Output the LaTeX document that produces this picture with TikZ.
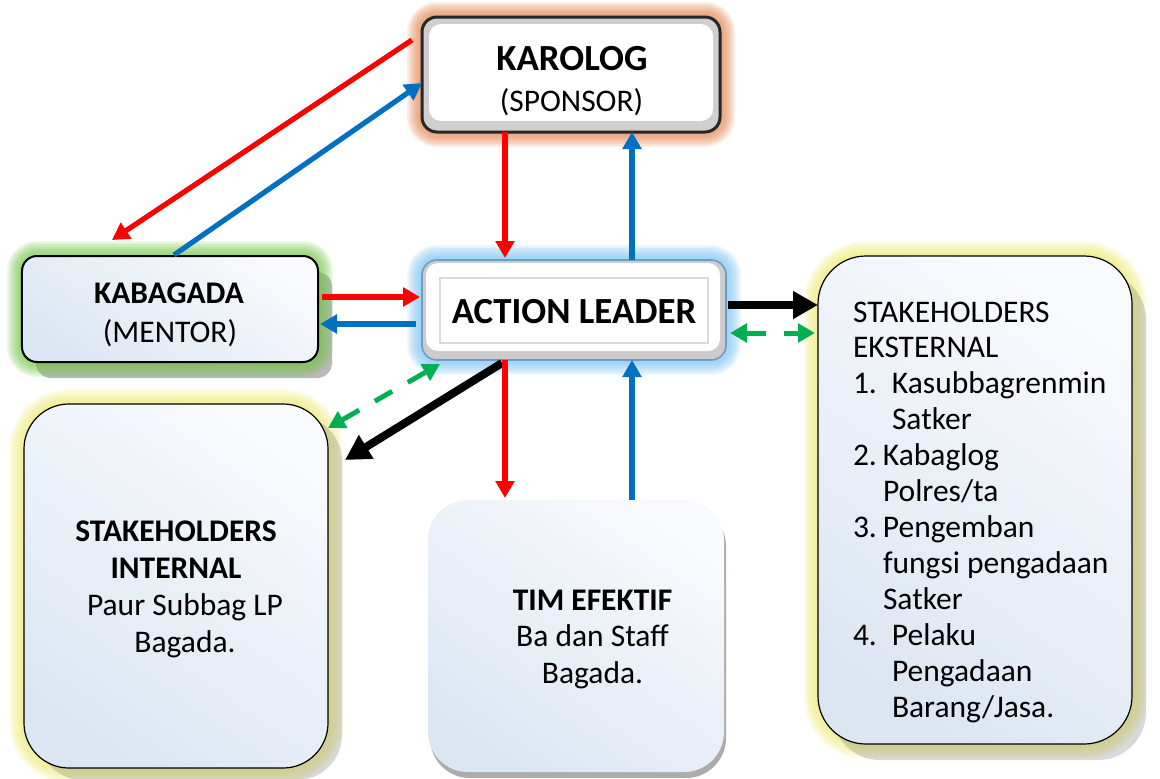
\documentclass[tikz,border=0pt]{standalone}
\usepackage{fontspec}
\setmainfont{Carlito}
\usetikzlibrary{arrows.meta,calc}
\pgfdeclarelayer{background}
\pgfsetlayers{background,main}

\definecolor{redA}{HTML}{FF0000}
\definecolor{blueA}{HTML}{0070C0}
\definecolor{greenA}{HTML}{00B050}
\definecolor{boxhi}{HTML}{F8FAFD}
\definecolor{boxlo}{HTML}{DCE6F2}
\definecolor{glowY}{HTML}{EEEA73}
\definecolor{glowG}{HTML}{75C647}
\definecolor{glowO}{HTML}{E1814A}
\definecolor{glowB}{HTML}{7AC2F2}
\definecolor{leadborder}{HTML}{6F9BCB}

% soft halo: stacked translucent strokes round a node's outline
\newcommand{\glowaround}[3]{%
  \begin{pgfonlayer}{background}
    \foreach \g in {1,...,10}{
      \pgfmathsetmacro{\lw}{0.75*\g}
      \draw[#3, line width=\lw mm, opacity=0.12, rounded corners=#2]
        (#1.north west) rectangle (#1.south east);
    }
  \end{pgfonlayer}}

% offset drop shadow behind a node
\newcommand{\dropshadow}[5]{%
  \begin{pgfonlayer}{background}
    \fill[#5, rounded corners=#4]
      ([shift={(#2,#3)}]#1.north west) rectangle ([shift={(#2,#3)}]#1.south east);
  \end{pgfonlayer}}

% grey bevel ring inside a framed box
\newcommand{\bevel}[7]{%
  \begin{pgfonlayer}{background}
    \fill[#7, rounded corners=#6] (#1.north west) rectangle (#1.south east);
    \fill[white, rounded corners=#6]
      ([shift={(#2,#3)}]#1.north west) rectangle ([shift={(#4,#5)}]#1.south east);
  \end{pgfonlayer}}

\tikzset{
  box/.style={rectangle, inner sep=0pt, outer sep=0pt},
  bluefill/.style={top color=boxhi, bottom color=boxlo, shading angle=-35},
  txt/.style={inner sep=0pt, outer sep=0pt, text=black},
  bigfont/.style={font=\fontsize{22.4}{26.3}\selectfont},
  boldfont/.style={font=\fontsize{22.4}{26.3}\selectfont\bfseries},
  headfont/.style={font=\fontsize{26.2}{30}\selectfont\bfseries},
  redarr/.style={draw=redA, line width=1.3mm, -{Triangle[length=4.25mm, width=4.6mm]}},
  bluearr/.style={draw=blueA, line width=1.3mm, -{Triangle[length=4.25mm, width=4.6mm]}},
  blackarr/.style={draw=black, line width=2mm, -{Triangle[length=6.25mm, width=6.6mm]}},
  greenarr/.style={draw=greenA, line width=1.25mm, dash pattern=on 5mm off 4.5mm,
    {Triangle[length=4.25mm, width=4.6mm]}-{Triangle[length=4.25mm, width=4.6mm]}},
}

\begin{document}
\begin{tikzpicture}[x=0.25mm, y=-0.25mm]
\useasboundingbox (0,0) rectangle (1160,778);

% boxes
\node[box, draw=black!85, line width=0.75mm, minimum width=74.5mm, minimum height=28.75mm,
      rounded corners=3.75mm] (karolog) at (571,74.5) {};
\node[box, bluefill, draw=black, line width=0.5mm, minimum width=74mm, minimum height=26.5mm,
      rounded corners=3.75mm] (kabagada) at (170,309) {};
\node[box, draw=leadborder, line width=0.4mm, minimum width=76mm, minimum height=25mm,
      rounded corners=3.75mm] (action) at (574,310) {};
\node[box, bluefill, draw=black, line width=0.3mm, minimum width=76mm, minimum height=91mm,
      rounded corners=11.25mm] (internal) at (176,586) {};
\node[box, bluefill, minimum width=74mm, minimum height=68mm,
      rounded corners=10mm] (tim) at (576,636) {};
\node[box, bluefill, draw=black, line width=0.3mm, minimum width=78.5mm, minimum height=122mm,
      rounded corners=12mm] (eksternal) at (975,500) {};

% halos, shadows and bevels
\dropshadow{kabagada}{14}{16}{3.75mm}{gray!55}
\glowaround{karolog}{3.75mm}{glowO}
\glowaround{kabagada}{3.75mm}{glowG}
\glowaround{action}{3.75mm}{glowB}
\glowaround{internal}{11.25mm}{glowY}
\glowaround{eksternal}{12mm}{glowY}
\dropshadow{internal}{14}{12}{11.25mm}{gray, opacity=0.3}
\dropshadow{eksternal}{14}{16}{12mm}{gray, opacity=0.3}
\dropshadow{tim}{2}{6}{10mm}{gray!65}
\bevel{karolog}{7}{7}{-7}{-11}{3mm}{gray!38}
\bevel{action}{4}{3}{-6}{-9}{3mm}{gray!40}
\draw[gray!30, line width=0.3mm]
  ([shift={(18,18)}]action.north west) rectangle ([shift={(-18,-17)}]action.south east);

% texts
\node[txt, headfont, anchor=base] (karologT) at (572,70) {KAROLOG};
\node[txt, bigfont, anchor=base] (karologS) at (571.5,111) {(SPONSOR)};
\node[txt, boldfont, anchor=base] (kabagadaT) at (169,303) {KABAGADA};
\node[txt, bigfont, anchor=base] (kabagadaS) at (170,342) {(MENTOR)};
\node[txt, headfont, anchor=base] (actionT) at (574,323) {ACTION LEADER};
\node[txt, bigfont, text width=90mm, align=flush center, anchor=base] (internalT) at (176,541.7)
  {\textbf{STAKEHOLDERS}\\ \textbf{INTERNAL}\\ \hspace*{4.5mm}Paur Subbag LP\\ \hspace*{4.5mm}Bagada.};
\node[txt, font=\fontsize{22.4}{26}\selectfont, text width=70mm, align=flush center, anchor=base]
  (timT) at (592.5,610) {\textbf{TIM EFEKTIF}\\ Ba dan Staff\\ Bagada.};
\node[txt, font=\fontsize{22.4}{25.6}\selectfont, text width=75mm, align=flush left, anchor=base west]
  (eksternalT) at (853,322)
  {STAKEHOLDERS\\
   EKSTERNAL\\
   \makebox[9.75mm][l]{1.}Kasubbagrenmin\\
   \hspace*{9.75mm}Satker\\
   \makebox[7.5mm][l]{2.}Kabaglog\\
   \hspace*{7.5mm}Polres/ta\\
   \makebox[7.5mm][l]{3.}Pengemban\\
   \hspace*{7.5mm}fungsi pengadaan\\
   \hspace*{7.5mm}Satker\\
   \makebox[9.75mm][l]{4.}Pelaku\\
   \hspace*{9.75mm}Pengadaan\\
   \hspace*{9.75mm}Barang/Jasa.};

% guide lines for straight connectors
\coordinate (colR) at (505,0);
\coordinate (colB) at (632,0);
\coordinate (rowR) at (0,297);
\coordinate (rowB) at (0,324);
\coordinate (rowK) at (0,305);
\coordinate (rowG) at (0,333);

% connectors
\draw[redarr] ([shift={(-10,23)}]karolog.north west) -- ([shift={(90,-16)}]kabagada.north west);
\draw[bluearr] ([shift={(152,-1)}]kabagada.north west) -- ([shift={(0,8.5)}]karolog.west);
\draw[redarr, shorten >=0.5mm] (karolog.south -| colR) -- (action.north -| colR);
\draw[bluearr] (action.north -| colB) -- (karolog.south -| colB);
\draw[redarr, shorten <=1mm, shorten >=0.5mm] (kabagada.east |- rowR) -- (action.west |- rowR);
\draw[bluearr, shorten <=1.5mm, shorten >=0.5mm] (action.west |- rowB) -- (kabagada.east |- rowB);
\draw[blackarr, shorten <=0.5mm] (action.east |- rowK) -- (eksternal.west |- rowK);
\draw[greenarr, shorten <=1mm, shorten >=0.75mm] (action.east |- rowG) -- (eksternal.west |- rowG);
\draw[greenarr] ([shift={(0,24)}]internal.north east) -- ([shift={(18,4)}]action.south west);
\draw[blackarr] ([shift={(-72,3)}]action.south) -- ([shift={(17,56)}]internal.north east);
\draw[redarr, shorten >=0.5mm] (action.south -| colR) -- (tim.north -| colR);
\draw[bluearr] (tim.north -| colB) -- (action.south -| colB);
\end{tikzpicture}
\end{document}
